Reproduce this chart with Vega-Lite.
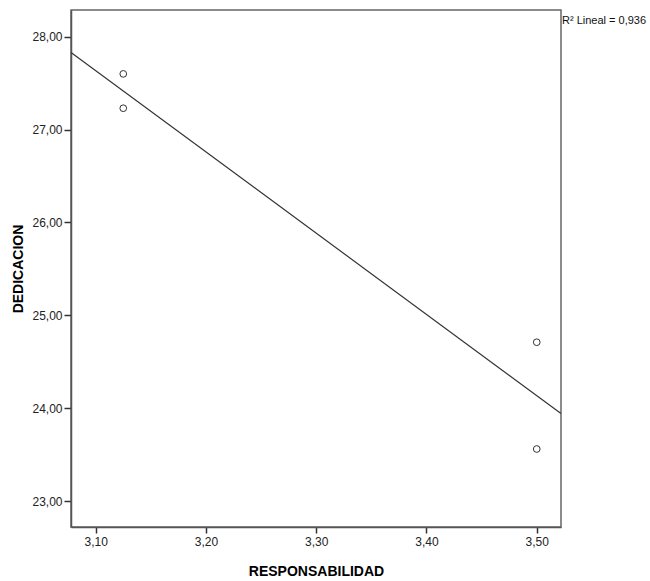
{
  "$schema": "https://vega.github.io/schema/vega-lite/v6.json",
  "autosize": "none",
  "width": 490,
  "height": 517,
  "padding": {"left": 71, "top": 10, "right": 89, "bottom": 54},
  "background": "white",
  "config": {
    "view": {"stroke": "#666666", "strokeWidth": 1.5},
    "font": "Liberation Sans",
    "axis": {
      "domainColor": "#555555",
      "domainWidth": 1.5,
      "tickColor": "#333333",
      "tickWidth": 1.5,
      "labelFont": "Liberation Sans",
      "labelFontSize": 12,
      "labelColor": "#222222",
      "titleFont": "Liberation Sans",
      "titleFontSize": 14,
      "titleFontWeight": "bold",
      "titleColor": "#000000",
      "grid": false
    }
  },
  "data": {
    "values": [
      {"RESPONSABILIDAD": 3.125, "DEDICACION": 27.6},
      {"RESPONSABILIDAD": 3.125, "DEDICACION": 27.23},
      {"RESPONSABILIDAD": 3.5, "DEDICACION": 24.71},
      {"RESPONSABILIDAD": 3.5, "DEDICACION": 23.56}
    ]
  },
  "layer": [
    {
      "mark": {"type": "point", "shape": "circle", "filled": false, "size": 45, "stroke": "#333333", "strokeWidth": 1, "opacity": 1},
      "encoding": {
        "x": {
          "field": "RESPONSABILIDAD", "type": "quantitative",
          "scale": {"domain": [3.0776, 3.522], "nice": false, "zero": false},
          "axis": {
            "values": [3.1, 3.2, 3.3, 3.4, 3.5],
            "labelExpr": "replace(format(datum.value, '.2f'), '.', ',')",
            "tickSize": 6, "labelPadding": 3, "titlePadding": 17,
            "title": "RESPONSABILIDAD"
          }
        },
        "y": {
          "field": "DEDICACION", "type": "quantitative",
          "scale": {"domain": [22.72, 28.288], "nice": false, "zero": false},
          "axis": {
            "values": [23, 24, 25, 26, 27, 28],
            "labelExpr": "replace(format(datum.value, '.2f'), '.', ',')",
            "tickSize": 7, "labelPadding": 2, "titlePadding": 6,
            "title": "DEDICACION"
          }
        }
      }
    },
    {
      "transform": [
        {"regression": "DEDICACION", "on": "RESPONSABILIDAD", "extent": [3.0776, 3.522]}
      ],
      "mark": {"type": "line", "color": "#333333", "strokeWidth": 1.2, "clip": true},
      "encoding": {
        "x": {"field": "RESPONSABILIDAD", "type": "quantitative"},
        "y": {"field": "DEDICACION", "type": "quantitative"}
      }
    },
    {
      "data": {"values": [{"label": "R² Lineal = 0,936"}]},
      "mark": {"type": "text", "align": "left", "baseline": "middle", "fontSize": 11, "color": "#111111", "dx": 1, "dy": 11, "clip": false},
      "encoding": {
        "x": {"datum": 3.522, "type": "quantitative"},
        "y": {"datum": 28.288, "type": "quantitative"},
        "text": {"field": "label"}
      }
    }
  ]
}
